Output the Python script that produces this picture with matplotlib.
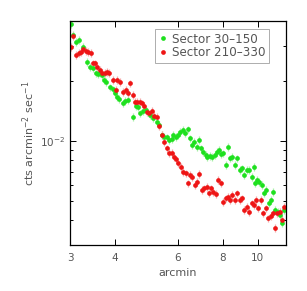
import matplotlib
matplotlib.use("Agg")
import matplotlib.pyplot as plt
import numpy as np
from matplotlib.ticker import FixedLocator, NullFormatter, LogLocator, NullLocator

# Sector 30-150 (green)
g_x = [3.019, 3.052, 3.118, 3.172, 3.254, 3.353, 3.411, 3.469, 3.537, 3.582,
       3.636, 3.683, 3.739, 3.779, 3.877, 3.944, 4.004, 4.064, 4.117, 4.224,
       4.279, 4.361, 4.484, 4.571, 4.650, 4.710, 4.801, 4.874, 5.011, 5.119,
       5.230, 5.320, 5.400, 5.493, 5.576, 5.660, 5.758, 5.820, 5.921, 6.010,
       6.074, 6.179, 6.272, 6.380, 6.476, 6.546, 6.645, 6.759, 6.861, 6.950,
       7.054, 7.161, 7.238, 7.363, 7.474, 7.603, 7.718, 7.817, 7.902, 8.020,
       8.142, 8.282, 8.371, 8.497, 8.644, 8.774, 8.925, 9.060, 9.177, 9.316,
       9.476, 9.620, 9.764, 9.827, 9.933, 10.08, 10.26, 10.41, 10.55, 10.73,
       10.87, 11.06, 11.20, 11.37, 11.54, 11.71, 11.84]
g_y = [0.03864, 0.03402, 0.03149, 0.03211, 0.02950, 0.02489, 0.02358, 0.02313, 0.02183, 0.02166,
       0.02200, 0.02142, 0.02021, 0.01982, 0.01857, 0.01814, 0.01732, 0.01667, 0.01628, 0.01543,
       0.01591, 0.01603, 0.01322, 0.01496, 0.01484, 0.01374, 0.01412, 0.01428, 0.01348, 0.01297,
       0.01248, 0.01201, 0.01070, 0.01049, 0.01041, 0.01010, 0.01017, 0.01070, 0.01049, 0.01070,
       0.01112, 0.01133, 0.01090, 0.01142, 0.01029, 0.00953, 0.00990, 0.00934, 0.01010, 0.00917,
       0.00882, 0.00849, 0.00832, 0.00839, 0.00832, 0.00849, 0.00882, 0.00899, 0.00859, 0.00865,
       0.00756, 0.00934, 0.00817, 0.00832, 0.00756, 0.00817, 0.00713, 0.00727, 0.00673, 0.00713,
       0.00713, 0.00660, 0.00741, 0.00612, 0.00636, 0.00623, 0.00600, 0.00545, 0.00566, 0.00485,
       0.00504, 0.00555, 0.00449, 0.00440, 0.00424, 0.00385, 0.00449]

# Sector 210-330 (red)
r_x = [3.019, 3.065, 3.118, 3.172, 3.219, 3.268, 3.317, 3.367, 3.425, 3.469,
       3.522, 3.575, 3.636, 3.691, 3.755, 3.795, 3.861, 3.961, 4.030, 4.064,
       4.134, 4.224, 4.287, 4.352, 4.408, 4.484, 4.552, 4.620, 4.700, 4.771,
       4.832, 4.905, 4.979, 5.065, 5.141, 5.230, 5.309, 5.400, 5.482, 5.576,
       5.660, 5.758, 5.845, 5.921, 6.010, 6.100, 6.205, 6.300, 6.380, 6.476,
       6.575, 6.688, 6.789, 6.861, 6.980, 7.085, 7.208, 7.317, 7.411, 7.523,
       7.636, 7.767, 7.885, 7.987, 8.142, 8.247, 8.371, 8.497, 8.644, 8.774,
       8.925, 9.060, 9.177, 9.316, 9.456, 9.620, 9.764, 9.890, 10.04, 10.19,
       10.37, 10.52, 10.71, 10.87, 11.01, 11.18, 11.34, 11.54, 11.66, 11.84]
r_y = [0.02972, 0.03363, 0.02699, 0.02752, 0.02805, 0.02882, 0.02838, 0.02805, 0.02752, 0.02451,
       0.02451, 0.02358, 0.02269, 0.02200, 0.02200, 0.02226, 0.02200, 0.02021, 0.01800, 0.02021,
       0.01982, 0.01766, 0.01800, 0.01732, 0.01944, 0.01699, 0.01573, 0.01573, 0.01573, 0.01543,
       0.01496, 0.01401, 0.01374, 0.01417, 0.01332, 0.01322, 0.01187, 0.01070, 0.00990, 0.00917,
       0.00872, 0.00872, 0.00832, 0.00807, 0.00771, 0.00741, 0.00700, 0.00687, 0.00612, 0.00673,
       0.00660, 0.00600, 0.00623, 0.00681, 0.00566, 0.00577, 0.00588, 0.00545, 0.00577, 0.00555,
       0.00540, 0.00636, 0.00612, 0.00494, 0.00514, 0.00524, 0.00504, 0.00534, 0.00504, 0.00545,
       0.00504, 0.00514, 0.00452, 0.00467, 0.00440, 0.00485, 0.00476, 0.00504, 0.00458, 0.00504,
       0.00432, 0.00458, 0.00408, 0.00419, 0.00432, 0.00366, 0.00432, 0.00440, 0.00400, 0.00467]

rel_err = 0.045
labels = ["Sector 30\u2013150", "Sector 210\u2013330"]
x_ticks = [3, 4, 6, 8, 10]
x_ticklabels = ["3", "4", "6", "8", "10"]

fig = plt.figure(figsize=(3.07, 2.91), dpi=100)
ax = fig.add_axes([0.228, 0.158, 0.704, 0.770])

txt = "#555555"
for xs, ys, c, ec, lab in [(g_x, g_y, "#1ee01e", "#a8f0a8", labels[0]),
                           (r_x, r_y, "#ee1515", "#f4a8a8", labels[1])]:
    ys = np.array(ys)
    ax.errorbar(xs, ys, yerr=rel_err * ys, fmt="none", ecolor=ec, elinewidth=0.9, zorder=1)
    ax.plot(xs, ys, "o", color=c, ms=3.4, mew=0, label=lab, zorder=2)

ax.set_xscale("log")
ax.set_yscale("log")
ax.set_xlim(3, 12)
ax.set_ylim(0.003, 0.04)

ax.xaxis.set_major_locator(FixedLocator(x_ticks))
ax.set_xticklabels(x_ticklabels)
ax.xaxis.set_minor_locator(NullLocator())
ax.yaxis.set_major_locator(FixedLocator([0.01]))
ax.yaxis.set_minor_locator(LogLocator(base=10, subs=np.arange(2, 10)))
ax.yaxis.set_minor_formatter(NullFormatter())

ax.tick_params(which="both", direction="in", top=True, right=True, labelcolor=txt,
               labelsize=7.5, width=0.7)
ax.tick_params(which="major", length=4)
ax.tick_params(which="minor", length=2.5)
ax.tick_params(axis="x", pad=6)
for s in ax.spines.values():
    s.set_linewidth(0.9)

ax.set_xlabel("arcmin", color=txt, fontsize=8, labelpad=3)
ax.set_ylabel("cts arcmin$^{-2}$ sec$^{-1}$", color=txt, fontsize=8, labelpad=2)

leg = ax.legend(loc="upper right", bbox_to_anchor=(0.93, 0.975), fontsize=8.6,
                frameon=True, fancybox=False, edgecolor="#888888", handlelength=0.6,
                handletextpad=0.45, borderpad=0.3, labelspacing=0.05, markerscale=1.0,
                borderaxespad=0.2)
leg.get_frame().set_linewidth(0.6)
for t in leg.get_texts():
    t.set_color(txt)

fig.savefig("out.png", dpi=100)
